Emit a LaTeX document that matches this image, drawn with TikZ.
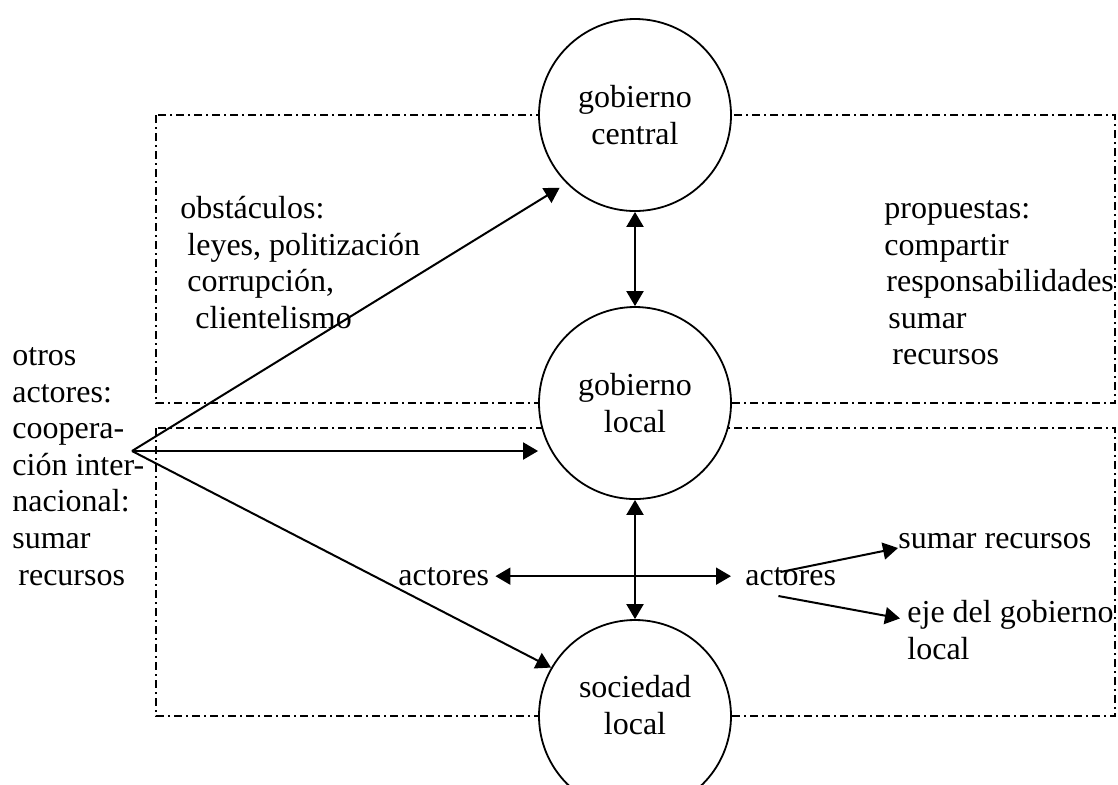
\documentclass[tikz,border=0pt]{standalone}
\usepackage{fontspec}
\setmainfont{Liberation Serif}
\usetikzlibrary{arrows.meta}
\begin{document}
\begin{tikzpicture}[x=0.5pt,y=-0.5pt,
  every node/.style={font=\fontsize{16pt}{18.3pt}\selectfont},
  actor/.style={circle,draw,fill=white,line width=0.9pt,minimum size=96pt,inner sep=0pt,align=center},
  note/.style={anchor=north west,inner sep=0pt,align=left},
  word/.style={anchor=base west,inner sep=0pt},
  zone/.style={line width=0.7pt,dash pattern=on 4pt off 2pt on 1pt off 2pt},
  link/.style={line width=1pt,-{Triangle[length=7.5pt,width=8.5pt]}},
  dlink/.style={line width=1pt,{Triangle[length=7.5pt,width=8.5pt]}-{Triangle[length=7.5pt,width=8.5pt]}}]
  \useasboundingbox (0,0) rectangle (1118,784);
  \draw[zone] (156,115) rectangle (1115,403);
  \draw[zone] (156,428) rectangle (1115,716);
  \node[actor] (gc) at (635,115) {gobierno\\central};
  \node[actor] (gl) at (635,403) {gobierno\\local};
  \node[actor,text depth=11pt] (sl) at (635,716) {sociedad\\local};
  \node[note] (otros) at (12,339.4) {\strut otros\\actores:\\coopera-\\ción inter-\\nacional:\\sumar\\\hspace*{3pt}recursos};
  \node[note] (obst) at (180,192.4) {\strut obstáculos:\\\hspace*{3.5pt}leyes, politización\\\hspace*{3.5pt}corrupción,\\\hspace*{7.5pt}clientelismo};
  \node[note] (prop) at (884,192.4) {\strut propuestas:\\compartir\\\hspace*{1pt}responsabilidades\\\hspace*{2pt}sumar\\\hspace*{4pt}recursos};
  \node[word,inner xsep=3pt] (actL) at (392,585) {actores};
  \node[word,inner xsep=7pt] (actR) at (731,585) {actores};
  \node[word] (sum) at (898,548) {sumar recursos};
  \node[note] (eje) at (907,596.4) {\strut eje del gobierno\\local};
  \coordinate (src) at (132,451);
  \draw[link,shorten >=4pt] (src) -- (gc.225);
  \draw[link] (src) -- (src -| gl.west);
  \draw[link] (src) -- (sl.150);
  \draw[dlink] (gc) -- (gl);
  \draw[dlink] (gl) -- (sl);
  \draw[dlink] (actL.east) -- (actR.west);
  \draw[link] ([shift={(35,-13)}]actR.text) -- (sum.base west);
  \draw[link] ([shift={(33,11)}]actR.text) -- ([shift={(-7,22)}]eje.north west);
\end{tikzpicture}
\end{document}
